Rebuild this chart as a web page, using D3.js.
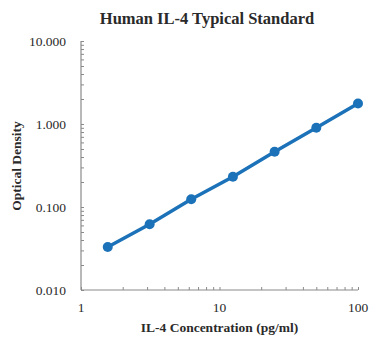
<!DOCTYPE html>
<html>
<head>
<meta charset="utf-8">
<script src="https://d3js.org/d3.v7.min.js"></script>
<style>
  body { margin: 0; background: #fff; }
  text { font-family: "Liberation Serif", "Times New Roman", serif; fill: #2a2a2a; }
</style>
</head>
<body>
<div id="chart"></div>
<script>
// standard curve values
var concentrations = [1.56, 3.13, 6.25, 12.5, 25, 50, 100];
var odValues = [0.033, 0.062, 0.124, 0.232, 0.463, 0.90, 1.77];
var xTicks = [1, 10, 100];
var yTicks = [0.01, 0.1, 1, 10];

var width = 383, height = 362;
var margin = { top: 41, right: 25, bottom: 72, left: 81 };

var svg = d3.select("#chart").append("svg")
  .attr("width", width)
  .attr("height", height);

var x = d3.scaleLog().domain([1, 100]).range([margin.left, width - margin.right]);
var y = d3.scaleLog().domain([0.01, 10]).range([height - margin.bottom, margin.top]);

var axisColor = "#8a8a8a";

// minor ticks (inward)
var xMinor = [], yMinor = [];
[1, 10].forEach(function (d) { for (var i = 2; i <= 9; i++) xMinor.push(d * i); });
[0.01, 0.1, 1].forEach(function (d) { for (var i = 2; i <= 9; i++) yMinor.push(d * i); });

var xAxis = svg.append("g")
  .attr("transform", "translate(0," + y.range()[0] + ")")
  .call(d3.axisBottom(x).tickValues(xMinor.concat(xTicks)).tickSize(-3).tickFormat(""));
var yAxis = svg.append("g")
  .attr("transform", "translate(" + x.range()[0] + ",0)")
  .call(d3.axisLeft(y).tickValues(yMinor.concat(yTicks)).tickSize(-3).tickFormat(""));

[xAxis, yAxis].forEach(function (a) {
  a.select(".domain").attr("stroke", axisColor).attr("stroke-width", 1.2);
  a.selectAll(".tick line").attr("stroke", axisColor);
});
xAxis.select(".domain").attr("d", "M" + x.range()[0] + ",0H" + x.range()[1]);
yAxis.select(".domain").attr("d", "M0," + y.range()[0] + "V" + y.range()[1]);

// tick labels
svg.selectAll(".xlab").data(xTicks).enter().append("text")
  .attr("x", function (d) { return x(d); })
  .attr("y", y.range()[0] + 22)
  .attr("text-anchor", "middle")
  .style("font-size", "13.5px")
  .text(function (d) { return d; });

svg.selectAll(".ylab").data(yTicks).enter().append("text")
  .attr("x", x.range()[0] - 15)
  .attr("y", function (d) { return y(d) + 5; })
  .attr("text-anchor", "end")
  .style("font-size", "13.5px")
  .text(function (d) { return d3.format(".3f")(d); });

// titles
svg.append("text")
  .attr("x", 207).attr("y", 24)
  .attr("text-anchor", "middle")
  .style("font-size", "16.5px").style("font-weight", "bold")
  .text("Human IL-4 Typical Standard");

svg.append("text")
  .attr("x", (x.range()[0] + x.range()[1]) / 2).attr("y", 332)
  .attr("text-anchor", "middle")
  .style("font-size", "13.5px").style("font-weight", "bold")
  .text("IL-4 Concentration (pg/ml)");

svg.append("text")
  .attr("transform", "translate(21,166) rotate(-90)")
  .attr("text-anchor", "middle")
  .style("font-size", "13.5px").style("font-weight", "bold")
  .text("Optical Density");

// curve
var pts = concentrations.map(function (c, i) { return [c, odValues[i]]; });
var blue = "#1c72b8";

svg.append("path")
  .datum(pts)
  .attr("fill", "none")
  .attr("stroke", blue)
  .attr("stroke-width", 3.5)
  .attr("d", d3.line().x(function (d) { return x(d[0]); }).y(function (d) { return y(d[1]); }));

svg.selectAll(".pt").data(pts).enter().append("circle")
  .attr("cx", function (d) { return x(d[0]); })
  .attr("cy", function (d) { return y(d[1]); })
  .attr("r", 5)
  .attr("fill", blue);
</script>
</body>
</html>
